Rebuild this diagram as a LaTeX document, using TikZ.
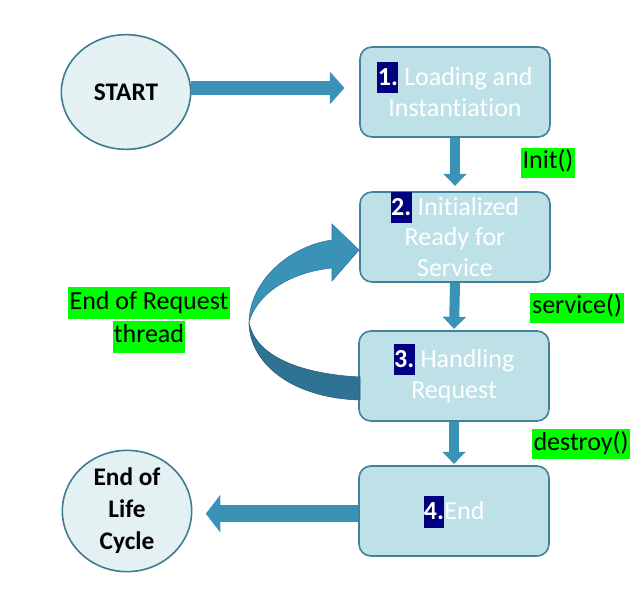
\documentclass[tikz,border=0pt]{standalone}
\usepackage{fontspec}
\setmainfont{Carlito}[Ligatures={NoCommon}]
\usetikzlibrary{arrows.meta,shapes.geometric}

\definecolor{boxfill}{HTML}{BDE1E7}
\definecolor{boxline}{HTML}{41819B}
\definecolor{ovalfill}{HTML}{E4F1F3}
\definecolor{ovalline}{HTML}{3E7D8F}
\definecolor{arrowblue}{HTML}{3A92B7}
\definecolor{arrowdark}{HTML}{2F7394}
\definecolor{numnavy}{HTML}{000080}
\definecolor{labelgreen}{HTML}{00FF00}

\newcommand{\stepnum}[1]{{\setlength{\fboxsep}{0.3pt}\smash{\colorbox{numnavy}{\rule[-5.5pt]{0pt}{23pt}\textbf{#1}}}}}
\newcommand{\greenline}[1]{{\setlength{\fboxsep}{1pt}\colorbox{labelgreen}{\strut #1}}}

\tikzset{
  stage/.style={shape=rectangle, rounded corners=9pt, draw=boxline, line width=1.2pt, fill=boxfill,
    minimum width=142.5pt, minimum height=67.5pt, text=white, align=center,
    font=\fontsize{19.5}{23}\selectfont},
  oval/.style={shape=ellipse, draw=ovalline, line width=1.2pt, fill=ovalfill, inner sep=0pt,
    minimum width=97pt, minimum height=86pt, align=center, font=\fontsize{19}{24}\selectfont\bfseries},
  callname/.style={shape=rectangle, fill=labelgreen, inner sep=1.5pt, text height=14pt, text depth=5pt,
    font=\fontsize{19.5}{23}\selectfont},
  downarrow/.style={draw=arrowblue, line width=7.5pt, -{Triangle[width=17pt,length=9pt]}},
  sidearrow/.style={draw=arrowblue, line width=11pt, -{Triangle[width=24pt,length=11pt]}}
}

\begin{document}
\begin{tikzpicture}[x=0.75pt, y=-0.75pt]
\useasboundingbox (0,0) rectangle (642,591);
%%%%%%%%%%%%%%%%%%%%%%%%%%%%%%%%%%%%%%%%%%% HELP LINES
%\draw[help lines, step=50] (0,0) grid (642,591);

%%%%%%%%%%%%%%%%%%%%%%%%%%%%%%%%%%%%%%%%%%% ovals
\node[oval](start) at (126,92){START};
\node[oval, minimum height=78pt](eol) at (127,511){End of\\Life\\Cycle};

%%%%%%%%%%%%%%%%%%%%%%%%%%%%%%%%%%%%%%%%%%% stages
\node[stage](load) at (455,92){\stepnum{1.} Loading and\\Instantiation};
\node[stage](init) at (455,237){\stepnum{2.} Initialized\\Ready for\\Service};
\node[stage](handle) at (454,376){\stepnum{3.} Handling\\Request};
\node[stage](finish) at (454,511){\stepnum{4.}End};

%%%%% arrows
\draw[sidearrow, shorten >=11pt] ([yshift=3pt]start.east) -- ([yshift=3pt]start.east -| load.west);
\draw[downarrow, shorten >=4pt] (load.south) -- (init.north);
\draw[downarrow, shorten >=1pt] (init.south) -- (handle.north);
\draw[downarrow, shorten >=1pt] (handle.south) -- (finish.north);
\draw[sidearrow, line width=12.75pt, -{Triangle[width=28pt,length=11pt]}, shorten >=10pt]
  ([yshift=-2pt]finish.west) -- ([yshift=-2pt]finish.west -| eol.east);

%%%%% loop back ribbon
\fill[arrowdark, draw=arrowdark!80!black, line width=0.4pt]
  (360,377) .. controls (300,374) and (255,356) .. (249,322)
  .. controls (249,362) and (290,398) .. (360,400) -- cycle;
\fill[arrowblue, draw=arrowdark, line width=0.4pt]
  (249,322) .. controls (250,280) and (290,246) .. (332,240) -- (332,224) -- (359,250)
  -- (332,281) -- (332,268) .. controls (292,272) and (258,292) .. (249,322) -- cycle;

%%%%% method calls
\node[callname](initcall) at (548,163){Init()};
\node[callname](servicecall) at (577,308){service()};
\node[callname](destroycall) at (581,444){destroy()};
\node[align=center, inner sep=0pt, font=\fontsize{19.5}{22}\selectfont](loopnote) at (149,320)
  {\greenline{End of Request}\\\greenline{thread}};
\end{tikzpicture}
\end{document}
